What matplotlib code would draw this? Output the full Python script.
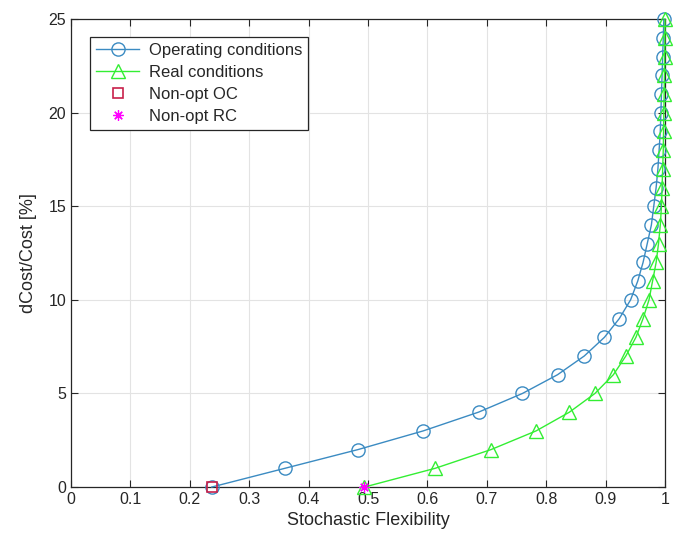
import matplotlib
matplotlib.use("Agg")
import matplotlib.pyplot as plt

plt.rcParams['font.family'] = ['Liberation Sans', 'DejaVu Sans']

cost_levels = list(range(0, 26))
sf_operating = [0.237, 0.360, 0.483, 0.593, 0.686, 0.760, 0.819, 0.864, 0.898, 0.923,
                0.942, 0.954, 0.963, 0.970, 0.977, 0.981, 0.985, 0.988, 0.990, 0.992,
                0.993, 0.994, 0.995, 0.996, 0.997, 0.998]
sf_real = [0.494, 0.613, 0.707, 0.783, 0.839, 0.882, 0.913, 0.934, 0.951, 0.963,
           0.973, 0.979, 0.985, 0.989, 0.992, 0.994, 0.995, 0.996, 0.997, 0.9975,
           0.998, 0.9985, 0.999, 0.9993, 0.9996, 0.9999]
nonopt_oc = (0.237, 0)
nonopt_rc = (0.494, 0)

xticks = [0, 0.1, 0.2, 0.3, 0.4, 0.5, 0.6, 0.7, 0.8, 0.9, 1]
xticklabels = ['0', '0.1', '0.2', '0.3', '0.4', '0.5', '0.6', '0.7', '0.8', '0.9', '1']
yticks = [0, 5, 10, 15, 20, 25]

fig = plt.figure(figsize=(6.8, 5.46), dpi=100)
ax = fig.add_axes([0.1044, 0.108, 0.8736, 0.857])

blue = '#3B8BC2'
green = '#33EE33'
txt = '#262626'

ax.plot(sf_operating, cost_levels, color=blue, lw=1.0, marker='o', ms=9.5,
        mfc='none', mec=blue, mew=1.0, label='Operating conditions', zorder=3,
        clip_on=False)
ax.plot(sf_real, cost_levels, color=green, lw=1.0, marker='^', ms=9.5,
        mfc='none', mec=green, mew=1.0, label='Real conditions', zorder=3,
        clip_on=False)
ax.plot([nonopt_oc[0]], [nonopt_oc[1]], linestyle='none', marker='s', ms=7.5,
        mfc='none', mec='#C8204A', mew=1.2, label='Non-opt OC', zorder=4,
        clip_on=False)
ax.plot([nonopt_rc[0]], [nonopt_rc[1]], linestyle='none', marker=(8, 2, 0), ms=7.5,
        color='#FF00FF', mec='#FF00FF', mew=0.9, label='Non-opt RC', zorder=5,
        clip_on=False)

ax.set_xlim(0, 1)
ax.set_ylim(0, 25)
ax.set_xticks(xticks)
ax.set_xticklabels(xticklabels)
ax.set_yticks(yticks)
ax.grid(True, color='#E3E3E3', lw=0.8)
ax.set_axisbelow(True)
ax.tick_params(direction='in', top=True, right=True, labelsize=11.5,
               colors=txt, length=5, width=0.8)
for s in ax.spines.values():
    s.set_color(txt)
    s.set_linewidth(0.9)

ax.set_xlabel('Stochastic Flexibility', fontsize=13, color=txt)
ax.set_ylabel('dCost/Cost [%]', fontsize=13, color=txt, labelpad=8)

leg = ax.legend(loc='upper left', bbox_to_anchor=(0.032, 0.962), fontsize=12,
                frameon=True, fancybox=False, edgecolor=txt, framealpha=1,
                handlelength=2.6, borderpad=0.35, labelspacing=0.42, handletextpad=0.6,
                borderaxespad=0)
leg.get_frame().set_linewidth(0.9)
for t in leg.get_texts():
    t.set_color(txt)

fig.savefig('out.png', dpi=100)
